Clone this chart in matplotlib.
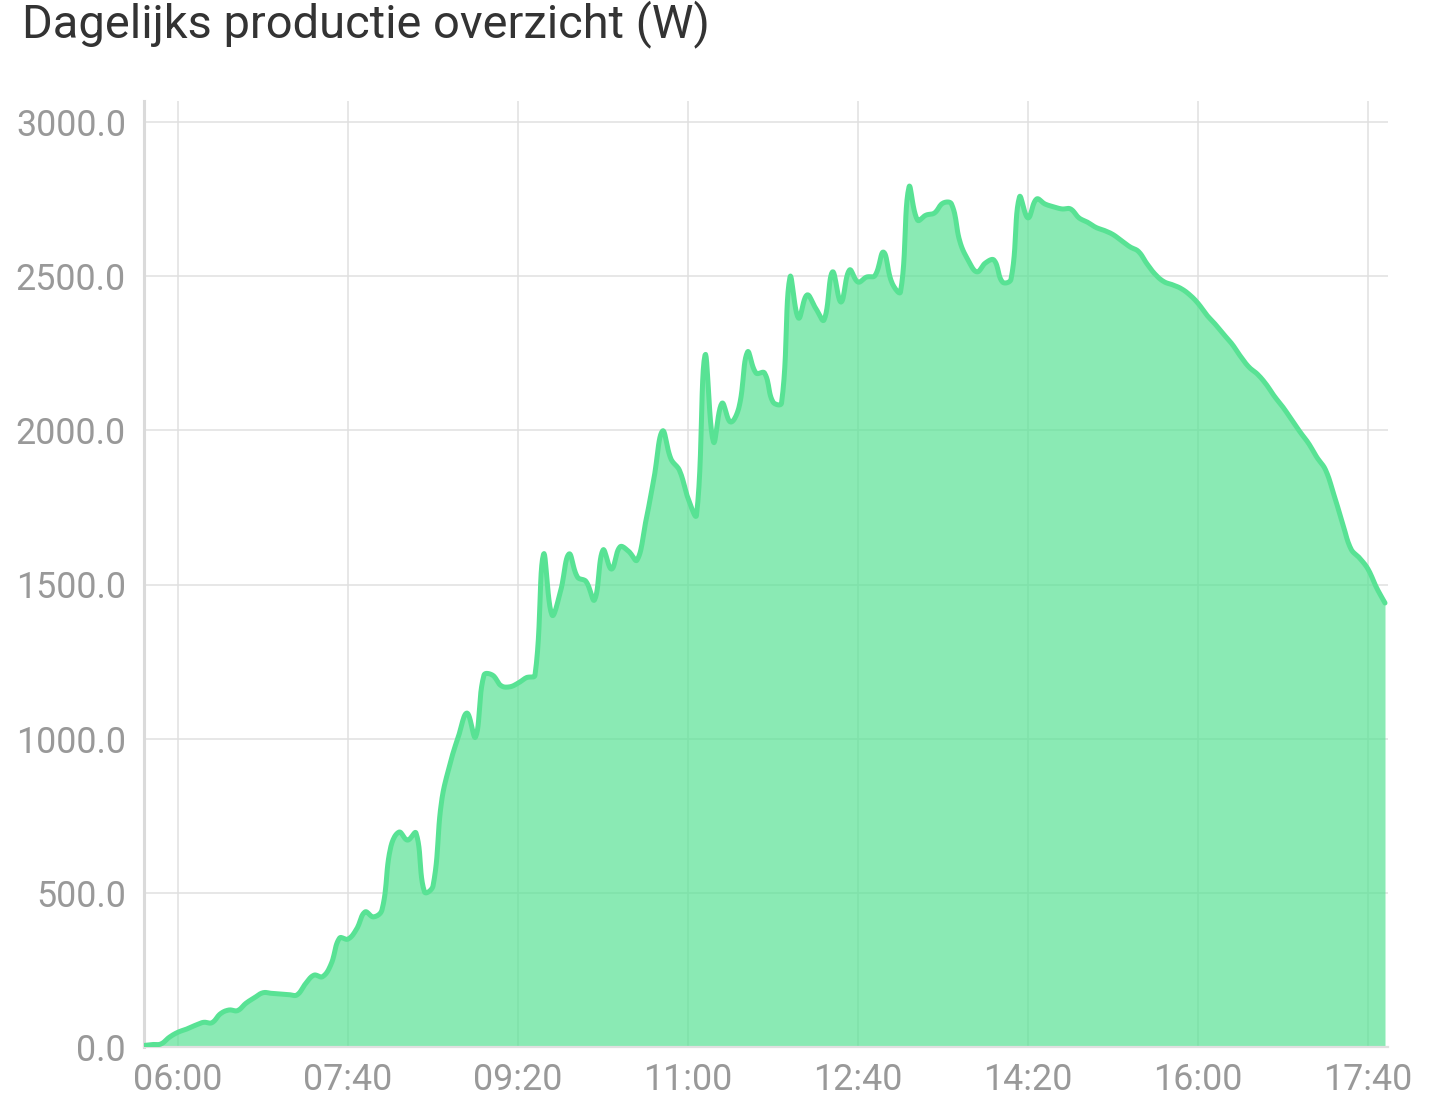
import numpy as np
import pandas as pd
import matplotlib
matplotlib.use("Agg")
import matplotlib.pyplot as plt

plt.rcParams['font.family'] = ['Roboto', 'DejaVu Sans']

# Production in watts, one reading every 5 minutes starting 05:40
start_time = "05:40"
step_minutes = 5
watts = [
    5, 8, 10, 32, 48, 58, 70, 80, 79, 108,
    120, 118, 142, 160, 176, 174, 172, 170, 169, 205,
    233, 228, 268, 353, 350, 382, 438, 422, 445, 645,
    697, 671, 694, 503, 522, 795, 918, 1008, 1083, 1005,
    1206, 1206, 1172, 1168, 1180, 1198, 1206, 1598, 1401, 1478,
    1599, 1524, 1510, 1450, 1612, 1550, 1622, 1608, 1579, 1700,
    1845, 1998, 1907, 1870, 1780, 1725, 2244, 1962, 2088, 2027,
    2075, 2254, 2186, 2186, 2092, 2088, 2497, 2364, 2439, 2397,
    2358, 2514, 2416, 2520, 2481, 2497, 2502, 2578, 2478, 2449,
    2789, 2682, 2698, 2705, 2737, 2734, 2611, 2550, 2514, 2543,
    2552, 2481, 2490, 2757, 2689, 2750, 2734, 2725, 2718, 2718,
    2689, 2675, 2658, 2648, 2635, 2615, 2595, 2580, 2540, 2505,
    2482, 2472, 2460, 2440, 2412, 2375, 2345, 2312, 2280, 2240,
    2205, 2182, 2150, 2110, 2075, 2035, 1995, 1958, 1912, 1872,
    1790, 1700, 1615, 1586, 1550, 1490, 1440,
]

x_ticks = ["06:00", "07:40", "09:20", "11:00", "12:40", "14:20", "16:00", "17:40"]
y_ticks = [0, 500, 1000, 1500, 2000, 2500, 3000]


def to_min(hhmm):
    h, m = hhmm.split(":")
    return int(h) * 60 + int(m)


times = pd.date_range(start_time, periods=len(watts), freq=f"{step_minutes}min")
x = np.array([t.hour * 60 + t.minute for t in times], dtype=float)
y = np.array(watts, dtype=float)

# pixel scale, used for chart.js-like bezier smoothing
px_x, px_y = 1.7, 925 / 3000


def smooth(xs, ys, tension=0.4, n=12):
    X = xs * px_x
    Y = ys * px_y
    cps = []
    for i in range(len(X)):
        p = (X[max(i - 1, 0)], Y[max(i - 1, 0)])
        c = (X[i], Y[i])
        q = (X[min(i + 1, len(X) - 1)], Y[min(i + 1, len(X) - 1)])
        d01 = np.hypot(c[0] - p[0], c[1] - p[1])
        d12 = np.hypot(q[0] - c[0], q[1] - c[1])
        tot = d01 + d12 if d01 + d12 > 0 else 1
        fa = tension * d01 / tot
        fb = tension * d12 / tot
        prev_cp = (c[0] - fa * (q[0] - p[0]), c[1] - fa * (q[1] - p[1]))
        next_cp = (c[0] + fb * (q[0] - p[0]), c[1] + fb * (q[1] - p[1]))
        cps.append((prev_cp, next_cp))
    t = np.linspace(0, 1, n, endpoint=False)[:, None]
    out = []
    for i in range(len(X) - 1):
        P0 = np.array([X[i], Y[i]])
        P1 = np.array(cps[i][1])
        P2 = np.array(cps[i + 1][0])
        P3 = np.array([X[i + 1], Y[i + 1]])
        seg = ((1 - t) ** 3) * P0 + 3 * ((1 - t) ** 2) * t * P1 + 3 * (1 - t) * t ** 2 * P2 + t ** 3 * P3
        out.append(seg)
    out.append(np.array([[X[-1], Y[-1]]]))
    pts = np.vstack(out)
    return pts[:, 0] / px_x, pts[:, 1] / px_y


sx, sy = smooth(x, y)

green = "#58e294"
grid_col = "#e0e0e0"
label_col = "#999999"

fig = plt.figure(figsize=(14.4, 11.12), dpi=100)
ax = fig.add_axes([144 / 1440, 65 / 1112, 1244 / 1440, 946 / 1112])

ax.fill_between(sx, 0, sy, color=green, alpha=0.7, linewidth=0, zorder=2)
ax.plot(sx, sy, color=green, linewidth=3.6, solid_joinstyle="round",
        solid_capstyle="round", zorder=3)

ax.set_xlim(340, 340 + 1244 / px_x)
ax.set_ylim(0, 3000 * 946 / 925)

ax.set_xticks([to_min(t) for t in x_ticks])
ax.set_xticklabels(x_ticks)
ax.set_yticks(y_ticks)
ax.set_yticklabels([f"{v:.1f}" for v in y_ticks])

ax.tick_params(axis="both", length=0, labelsize=25.8, labelcolor=label_col)
ax.tick_params(axis="y", pad=13)
ax.tick_params(axis="x", pad=11)

ax.set_axisbelow(True)
ax.grid(True, color=grid_col, linewidth=1.1)

for side in ["top", "right"]:
    ax.spines[side].set_visible(False)
ax.spines["left"].set_color("#dadada")
ax.spines["left"].set_linewidth(2.2)
ax.spines["bottom"].set_color("#e0e0e0")
ax.spines["bottom"].set_linewidth(1.6)

fig.text(22 / 1440, 1 - 37 / 1112, "Dagelijks productie overzicht (W)",
         fontsize=33.8, color="#333333", ha="left", va="baseline")

fig.savefig("out.png", dpi=100)
